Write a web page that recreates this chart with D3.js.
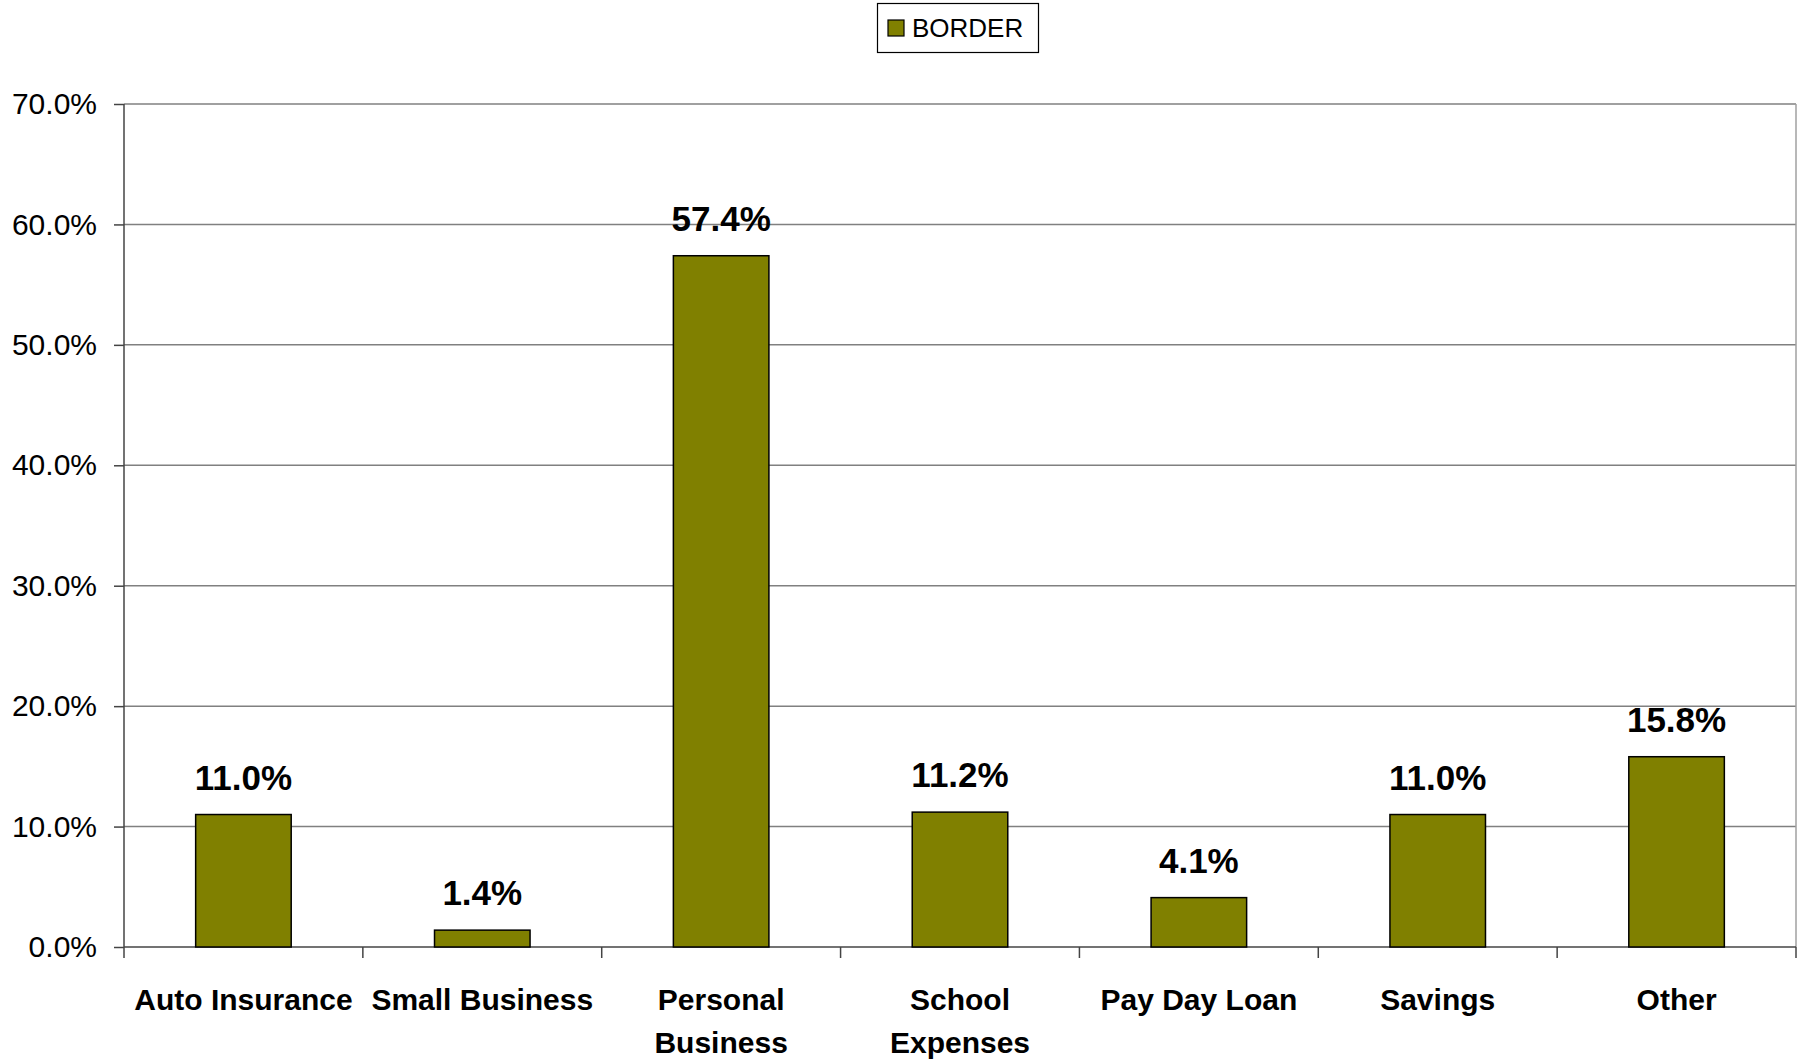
<!DOCTYPE html>
<html>
<head>
<meta charset="utf-8">
<script src="https://cdn.jsdelivr.net/npm/d3@7"></script>
<style>
  body { margin: 0; background: #fff; }
  text { font-family: "Liberation Sans", Arial, sans-serif; }
</style>
</head>
<body>
<svg id="chart" width="1810" height="1061"></svg>
<script>
// chart data
const categories = [["Auto Insurance"], ["Small Business"], ["Personal", "Business"],
  ["School", "Expenses"], ["Pay Day Loan"], ["Savings"], ["Other"]];
const values = [11.0, 1.4, 57.4, 11.2, 4.1, 11.0, 15.8];
const yTicks = [0, 10, 20, 30, 40, 50, 60, 70];
const seriesName = "BORDER";

const svg = d3.select('#chart');
const plotL = 124, plotR = 1796, plotT = 104, plotB = 947;

const x = d3.scaleBand()
    .domain(d3.range(categories.length))
    .range([plotL, plotR])
    .paddingInner(0.6)
    .paddingOuter(0.3);
const xb = d3.scaleBand().domain(d3.range(categories.length)).range([plotL, plotR]);
const y = d3.scaleLinear().domain([0, 70]).range([plotB, plotT]);

// gridlines
svg.append('g')
    .selectAll('line')
    .data(yTicks.slice(1))
    .enter()
    .append('line')
    .attr('x1', plotL).attr('x2', plotR)
    .attr('y1', d => y(d)).attr('y2', d => y(d))
    .attr('stroke', '#808080')
    .attr('stroke-width', 1.5);

// right border
svg.append('line')
    .attr('x1', plotR).attr('x2', plotR)
    .attr('y1', plotT).attr('y2', plotB)
    .attr('stroke', '#a0a0a0').attr('stroke-width', 1.5);

// y axis
const yAxis = svg.append('g')
    .attr('transform', 'translate(' + plotL + ',0)')
    .call(d3.axisLeft(y).tickValues(yTicks).tickSize(10).tickPadding(17)
        .tickFormat(d => d.toFixed(1) + '%'));
yAxis.select('.domain').remove();
yAxis.selectAll('line').attr('stroke', '#444').attr('stroke-width', 1.5);
yAxis.selectAll('text').style('font-size', '30px').attr('fill', '#000')
    .attr('font-family', '"Liberation Sans", Arial, sans-serif');
svg.append('line')
    .attr('x1', plotL).attr('x2', plotL)
    .attr('y1', plotT).attr('y2', plotB + 11)
    .attr('stroke', '#444').attr('stroke-width', 1.5);

// x axis line and ticks at band edges
svg.append('line')
    .attr('x1', plotL).attr('x2', plotR)
    .attr('y1', plotB).attr('y2', plotB)
    .attr('stroke', '#444').attr('stroke-width', 1.5);
svg.append('g')
    .selectAll('line')
    .data(d3.range(1, categories.length + 1))
    .enter()
    .append('line')
    .attr('x1', d => plotL + d * xb.step()).attr('x2', d => plotL + d * xb.step())
    .attr('y1', plotB).attr('y2', plotB + 11)
    .attr('stroke', '#444').attr('stroke-width', 1.5);

// bars
svg.append('g')
    .selectAll('rect')
    .data(values)
    .enter()
    .append('rect')
    .attr('x', (d, i) => x(i))
    .attr('width', x.bandwidth())
    .attr('y', d => y(d))
    .attr('height', d => plotB - y(d))
    .attr('fill', '#808000')
    .attr('stroke', '#000')
    .attr('stroke-width', 1.5);

// value labels
svg.append('g')
    .selectAll('text')
    .data(values)
    .enter()
    .append('text')
    .attr('x', (d, i) => xb(i) + xb.bandwidth() / 2)
    .attr('y', d => y(d) - 25)
    .attr('text-anchor', 'middle')
    .style('font-size', '35px')
    .style('font-weight', 'bold')
    .text(d => d.toFixed(1) + '%');

// category labels
const cat = svg.append('g')
    .selectAll('text')
    .data(categories)
    .enter()
    .append('text')
    .attr('x', (d, i) => xb(i) + xb.bandwidth() / 2)
    .attr('y', 1010)
    .attr('text-anchor', 'middle')
    .style('font-size', '30px')
    .style('font-weight', 'bold');
cat.selectAll('tspan')
    .data(d => d)
    .enter()
    .append('tspan')
    .attr('x', function() { return this.parentNode.getAttribute('x'); })
    .attr('dy', (d, i) => i === 0 ? 0 : 43)
    .text(d => d);

// legend
const lg = svg.append('g');
lg.append('rect')
    .attr('x', 877.5).attr('y', 3.5).attr('width', 161).attr('height', 49)
    .attr('fill', '#fff').attr('stroke', '#000').attr('stroke-width', 1.2);
lg.append('rect')
    .attr('x', 888).attr('y', 20).attr('width', 16).attr('height', 16)
    .attr('fill', '#808000').attr('stroke', '#000').attr('stroke-width', 1.2);
lg.append('text')
    .attr('x', 912).attr('y', 37)
    .style('font-size', '26px')
    .text(seriesName);
</script>
</body>
</html>
